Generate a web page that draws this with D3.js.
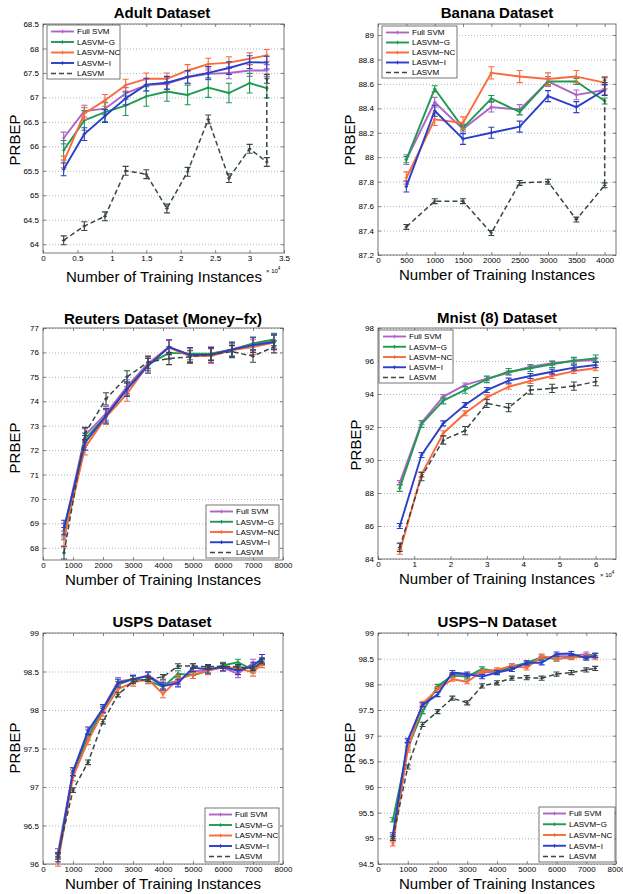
<!DOCTYPE html>
<html><head><meta charset="utf-8">
<script src="https://cdn.jsdelivr.net/npm/d3@7"></script>
<style>
body{margin:0;background:#fff}
text{font-family:"Liberation Sans",Arial,Helvetica,sans-serif;fill:#000}
</style>
</head><body><svg id="c" width="623" height="894"></svg>
<script>
// ---------------- DATA ----------------
const seriesNames = ["Full SVM", "LASVM\u2212G", "LASVM\u2212NC", "LASVM\u2212I", "LASVM"];

// Adult (x in units of 10^4)
const adultX = [0.3, 0.6, 0.9, 1.2, 1.5, 1.8, 2.1, 2.4, 2.7, 3.0, 3.25];
const adultFull = [66.17, 66.72, 66.77, 67.08, 67.25, 67.28, 67.41, 67.48, 67.5, 67.55, 67.55];
const adultG = [65.92, 66.53, 66.7, 66.83, 67.02, 67.12, 67.05, 67.2, 67.09, 67.29, 67.19];
const adultNC = [65.68, 66.67, 66.94, 67.25, 67.38, 67.38, 67.55, 67.68, 67.71, 67.79, 67.86];
const adultI = [65.53, 66.25, 66.62, 66.98, 67.26, 67.3, 67.42, 67.5, 67.6, 67.72, 67.71];
const adultLasvmX = [0.3, 0.6, 0.9, 1.2, 1.5, 1.8, 2.1, 2.4, 2.7, 3.0, 3.25, 3.25];
const adultLasvm = [64.08, 64.37, 64.57, 65.5, 65.43, 64.73, 65.48, 66.55, 65.35, 65.95, 65.68, 67.38];
const adultErr = [0.12, 0.2, 0.12, 0.13, 0.09];
const adultXTicks = [0, 0.5, 1, 1.5, 2, 2.5, 3, 3.5];
const adultYTicks = [64, 64.5, 65, 65.5, 66, 66.5, 67, 67.5, 68, 68.5];

// Banana
const bananaX = [500, 1000, 1500, 2000, 2500, 3000, 3500, 4000];
const bananaFull = [87.98, 88.45, 88.23, 88.41, 88.39, 88.62, 88.51, 88.55];
const bananaG = [87.98, 88.56, 88.24, 88.48, 88.37, 88.62, 88.62, 88.46];
const bananaNC = [87.83, 88.31, 88.28, 88.69, 88.66, 88.64, 88.66, 88.61];
const bananaI = [87.76, 88.38, 88.15, 88.2, 88.25, 88.5, 88.41, 88.55];
const bananaLasvmX = [500, 1000, 1500, 2000, 2500, 3000, 3500, 4000, 4000];
const bananaLasvm = [87.43, 87.64, 87.64, 87.38, 87.79, 87.8, 87.49, 87.77, 88.63];
const bananaErr = [0.04, 0.025, 0.05, 0.045, 0.02];
const bananaXTicks = [0, 500, 1000, 1500, 2000, 2500, 3000, 3500, 4000];
const bananaYTicks = [87.2, 87.4, 87.6, 87.8, 88, 88.2, 88.4, 88.6, 88.8, 89];

// Reuters (Money-fx)
const reutersX = [700, 1400, 2100, 2800, 3500, 4200, 4900, 5600, 6300, 7000, 7700];
const reutersFull = [68.72, 72.6, 73.5, 74.6, 75.55, 76.22, 75.9, 75.95, 76.12, 76.35, 76.45];
const reutersG = [68.58, 72.45, 73.4, 74.5, 75.5, 75.98, 75.95, 75.95, 76.1, 76.37, 76.53];
const reutersNC = [68.38, 72.1, 73.35, 74.3, 75.5, 76.2, 75.85, 75.85, 76.1, 76.22, 76.4];
const reutersI = [68.83, 72.3, 73.4, 74.5, 75.45, 76.22, 75.9, 75.9, 76.12, 76.3, 76.42];
const reutersLasvm = [67.79, 72.68, 74.1, 75.0, 75.6, 75.75, 75.82, 75.92, 76.03, 75.85, 76.23];
const reutersErr = [0.28, 0.25, 0.3, 0.3, 0.25];
const reutersXTicks = [0, 1000, 2000, 3000, 4000, 5000, 6000, 7000, 8000];
const reutersYTicks = [68, 69, 70, 71, 72, 73, 74, 75, 76, 77];

// Mnist (8) (x in units of 10^4)
const mnistX = [0.6, 1.2, 1.8, 2.4, 3.0, 3.6, 4.2, 4.8, 5.4, 6.0];
const mnistFull = [88.63, 92.26, 93.84, 94.55, 94.93, 95.29, 95.66, 95.86, 96.0, 96.06];
const mnistG = [88.3, 92.18, 93.6, 94.25, 94.89, 95.35, 95.56, 95.8, 96.02, 96.16];
const mnistNC = [84.44, 89.13, 91.62, 92.83, 93.8, 94.44, 94.79, 95.09, 95.39, 95.56];
const mnistI = [86.0, 90.3, 92.22, 93.33, 94.24, 94.81, 95.09, 95.35, 95.6, 95.76];
const mnistLasvm = [84.71, 88.99, 91.21, 91.78, 93.43, 93.17, 94.24, 94.34, 94.48, 94.75];
const mnistErr = [0.12, 0.2, 0.15, 0.15, 0.25];
const mnistXTicks = [0, 1, 2, 3, 4, 5, 6];
const mnistYTicks = [84, 86, 88, 90, 92, 94, 96, 98];

// USPS
const uspsX = [500, 1000, 1500, 2000, 2500, 3000, 3500, 4000, 4500, 5000, 5500, 6000, 6500, 7000, 7300];
const uspsFull = [96.15, 97.2, 97.7, 98.02, 98.37, 98.4, 98.45, 98.33, 98.38, 98.5, 98.52, 98.55, 98.47, 98.61, 98.63];
const uspsG = [96.1, 97.18, 97.65, 98.0, 98.33, 98.4, 98.38, 98.3, 98.47, 98.45, 98.51, 98.58, 98.62, 98.52, 98.63];
const uspsNC = [96.02, 97.13, 97.6, 97.97, 98.27, 98.36, 98.4, 98.21, 98.4, 98.46, 98.51, 98.56, 98.54, 98.49, 98.6];
const uspsI = [96.08, 97.2, 97.73, 98.02, 98.35, 98.4, 98.44, 98.31, 98.35, 98.55, 98.53, 98.56, 98.51, 98.57, 98.67];
const uspsLasvm = [96.12, 96.96, 97.32, 97.85, 98.2, 98.37, 98.4, 98.43, 98.57, 98.57, 98.56, 98.57, 98.56, 98.54, 98.63];
const uspsErr = [0.05, 0.04, 0.05, 0.05, 0.03];
const uspsXTicks = [0, 1000, 2000, 3000, 4000, 5000, 6000, 7000, 8000];
const uspsYTicks = [96, 96.5, 97, 97.5, 98, 98.5, 99];

// USPS-N
const uspsnX = [500, 1000, 1500, 2000, 2500, 3000, 3500, 4000, 4500, 5000, 5500, 6000, 6500, 7000, 7300];
const uspsnFull = [95.03, 96.89, 97.6, 97.91, 98.19, 98.18, 98.23, 98.25, 98.36, 98.4, 98.5, 98.55, 98.55, 98.59, 98.56];
const uspsnG = [95.36, 96.76, 97.47, 97.96, 98.17, 98.15, 98.3, 98.25, 98.33, 98.42, 98.53, 98.49, 98.53, 98.53, 98.57];
const uspsnNC = [94.89, 96.72, 97.63, 97.9, 98.1, 98.05, 98.25, 98.28, 98.36, 98.32, 98.55, 98.5, 98.52, 98.54, 98.52];
const uspsnI = [95.07, 96.91, 97.6, 97.8, 98.23, 98.2, 98.15, 98.23, 98.29, 98.42, 98.42, 98.59, 98.6, 98.51, 98.56];
const uspsnLasvm = [95.0, 96.39, 97.22, 97.47, 97.73, 97.64, 97.97, 98.03, 98.12, 98.13, 98.12, 98.2, 98.23, 98.28, 98.31];
const uspsnErr = [0.04, 0.04, 0.04, 0.04, 0.04];
const uspsnXTicks = [0, 1000, 2000, 3000, 4000, 5000, 6000, 7000, 8000];
const uspsnYTicks = [94.5, 95, 95.5, 96, 96.5, 97, 97.5, 98, 98.5, 99];

// ---------------- STYLE / LAYOUT ----------------
const colors = ["#b062c8", "#1f9a50", "#f96a3c", "#2a3fc6", "#3a4646"];

function mk(xs, lasvmX, arrs) {
  return arrs.map((v, i) => ({ xs: (i === 4 && lasvmX) ? lasvmX : xs, ys: v }));
}

const panels = [
  { title: "Adult Dataset", x0: 43, x1: 284, y0: 24, y1: 253, xDom: [0, 3.5], yDom: [63.82, 68.5],
    xTicks: adultXTicks, yTicks: adultYTicks, err: adultErr,
    series: mk(adultX, adultLasvmX, [adultFull, adultG, adultNC, adultI, adultLasvm]),
    tx: 162, ty: 18, lx: 164, ly: 282, ylx: 15, yly: 140, exp: [266, 273],
    leg: { x: 47, y: 25, w: 73, h: 54 } },
  { title: "Banana Dataset", x0: 378, x1: 616, y0: 24, y1: 255, xDom: [0, 4200], yDom: [87.2, 89.09],
    xTicks: bananaXTicks, yTicks: bananaYTicks, err: bananaErr,
    series: mk(bananaX, bananaLasvmX, [bananaFull, bananaG, bananaNC, bananaI, bananaLasvm]),
    tx: 497, ty: 17.5, lx: 497, ly: 280, ylx: 350, yly: 140,
    leg: { x: 382, y: 26, w: 75, h: 52 } },
  { title: "Reuters Dataset (Money\u2212fx)", x0: 43, x1: 283, y0: 328, y1: 560, xDom: [0, 8000], yDom: [67.5, 77],
    xTicks: reutersXTicks, yTicks: reutersYTicks, err: reutersErr,
    series: mk(reutersX, null, [reutersFull, reutersG, reutersNC, reutersI, reutersLasvm]),
    tx: 163, ty: 324, lx: 163, ly: 585, ylx: 15, yly: 448,
    leg: { x: 206, y: 505, w: 73, h: 53 } },
  { title: "Mnist (8) Dataset", x0: 378, x1: 616, y0: 328, y1: 559, xDom: [0, 6.56], yDom: [84, 98],
    xTicks: mnistXTicks, yTicks: mnistYTicks, err: mnistErr,
    series: mk(mnistX, null, [mnistFull, mnistG, mnistNC, mnistI, mnistLasvm]),
    tx: 497, ty: 323, lx: 497, ly: 584, ylx: 356, yly: 445, exp: [600, 577],
    leg: { x: 379, y: 330, w: 74, h: 53 } },
  { title: "USPS Dataset", x0: 43, x1: 283, y0: 633, y1: 864, xDom: [0, 8000], yDom: [96, 99],
    xTicks: uspsXTicks, yTicks: uspsYTicks, err: uspsErr,
    series: mk(uspsX, null, [uspsFull, uspsG, uspsNC, uspsI, uspsLasvm]),
    tx: 162, ty: 627, lx: 163, ly: 888.5, ylx: 15, yly: 748,
    leg: { x: 205, y: 808, w: 74, h: 54 } },
  { title: "USPS\u2212N Dataset", x0: 378, x1: 616, y0: 633, y1: 864, xDom: [0, 8000], yDom: [94.5, 99],
    xTicks: uspsnXTicks, yTicks: uspsnYTicks, err: uspsnErr,
    series: mk(uspsnX, null, [uspsnFull, uspsnG, uspsnNC, uspsnI, uspsnLasvm]),
    tx: 497, ty: 627, lx: 497, ly: 888.5, ylx: 350, yly: 748,
    leg: { x: 539, y: 807, w: 76, h: 55 } }
];

const svg = d3.select("#c");

function marker(g, cx, cy, col) {
  g.append("path").attr("d", `M${cx-1.8},${cy}H${cx+1.8}M${cx},${cy-1.8}V${cy+1.8}`)
    .attr("stroke", col).attr("stroke-width", 1.2);
}

function drawPanel(p) {
  const g = svg.append("g");
  const x = d3.scaleLinear().domain(p.xDom).range([p.x0, p.x1]);
  const y = d3.scaleLinear().domain(p.yDom).range([p.y1, p.y0]);
  const W = p.x1 - p.x0, H = p.y1 - p.y0;

  g.append("rect").attr("x", p.x0).attr("y", p.y0).attr("width", W).attr("height", H).attr("fill", "#fff");

  // dotted horizontal grid
  g.append("g").attr("transform", `translate(${p.x0},0)`)
    .call(d3.axisLeft(y).tickValues(p.yTicks).tickSize(-W).tickFormat(""))
    .call(s => { s.select(".domain").remove();
      s.selectAll("line").attr("stroke", "#9aa6b4").attr("stroke-width", 0.8).attr("stroke-dasharray", "1,2"); });

  // axes with inward ticks
  const ya = g.append("g").attr("transform", `translate(${p.x0},0)`)
    .call(d3.axisLeft(y).tickValues(p.yTicks).tickSize(-3).tickPadding(4).tickFormat(d => d));
  const yr = g.append("g").attr("transform", `translate(${p.x1},0)`)
    .call(d3.axisRight(y).tickValues(p.yTicks).tickSize(-3).tickFormat(""));
  const xa = g.append("g").attr("transform", `translate(0,${p.y1})`)
    .call(d3.axisBottom(x).tickValues(p.xTicks).tickSize(-3).tickPadding(2.5).tickFormat(d => d));
  const xt = g.append("g").attr("transform", `translate(0,${p.y0})`)
    .call(d3.axisTop(x).tickValues(p.xTicks).tickSize(-3).tickFormat(""));
  [ya, yr, xa, xt].forEach(a => {
    a.select(".domain").remove();
    a.selectAll("line").attr("stroke", "#555").attr("stroke-width", 0.7);
    a.selectAll("text").attr("font-size", 8).attr("fill", "#222")
      .attr("font-family", "'Liberation Sans',Arial,sans-serif");
  });
  xa.selectAll("text").attr("dy", "0.71em");

  // series
  p.series.forEach((s, i) => {
    const col = colors[i];
    const pts = s.xs.map((xv, k) => [xv, s.ys[k]]);
    const line = d3.line().x(d => x(d[0])).y(d => y(d[1]));
    g.append("path").attr("d", line(pts)).attr("fill", "none").attr("stroke", col)
      .attr("stroke-width", i === 4 ? 1.5 : 1.9)
      .attr("stroke-dasharray", i === 4 ? "5,3" : null)
      .attr("stroke-linejoin", "round");
    const e = p.err[i];
    pts.forEach(d => {
      const cx = x(d[0]), yl = y(d[1] - e), yh = y(d[1] + e);
      g.append("path").attr("d", `M${cx},${yl}V${yh}M${cx-3},${yl}H${cx+3}M${cx-3},${yh}H${cx+3}`)
        .attr("stroke", col).attr("stroke-width", 1.1).attr("fill", "none");
      marker(g, cx, y(d[1]), col);
    });
  });

  // box
  g.append("rect").attr("x", p.x0).attr("y", p.y0).attr("width", W).attr("height", H)
    .attr("fill", "none").attr("stroke", "#555").attr("stroke-width", 0.8);

  // legend
  const L = p.leg;
  const lg = g.append("g");
  lg.append("rect").attr("x", L.x).attr("y", L.y).attr("width", L.w).attr("height", L.h)
    .attr("fill", "#fff").attr("stroke", "#555").attr("stroke-width", 0.8);
  const step = (L.h - 12) / 4;
  seriesNames.forEach((nm, i) => {
    const yy = L.y + 6.5 + i * step;
    lg.append("line").attr("x1", L.x + 4).attr("x2", L.x + 27).attr("y1", yy).attr("y2", yy)
      .attr("stroke", colors[i]).attr("stroke-width", i === 4 ? 1.5 : 1.9)
      .attr("stroke-dasharray", i === 4 ? "5,3" : null);
    if (i < 4) marker(lg, L.x + 15.5, yy, colors[i]);
    lg.append("text").attr("x", L.x + 30).attr("y", yy).attr("dy", "0.35em")
      .attr("font-size", 8).text(nm);
  });

  // titles & labels
  g.append("text").attr("x", p.tx).attr("y", p.ty).attr("text-anchor", "middle")
    .attr("font-size", 15).attr("font-weight", "bold").text(p.title);
  g.append("text").attr("x", p.lx).attr("y", p.ly).attr("text-anchor", "middle")
    .attr("font-size", 15).text("Number of Training Instances");
  g.append("text").attr("transform", `translate(${p.ylx},${p.yly}) rotate(-90)`)
    .attr("text-anchor", "middle").attr("dy", "0.35em").attr("font-size", 15).text("PRBEP");
  if (p.exp) {
    const t = g.append("text").attr("x", p.exp[0]).attr("y", p.exp[1]).attr("font-size", 6);
    t.append("tspan").text("\u00d7 10");
    t.append("tspan").attr("dy", -3).attr("font-size", 4.5).text("4");
  }
}

panels.forEach(drawPanel);
</script>
</body></html>
